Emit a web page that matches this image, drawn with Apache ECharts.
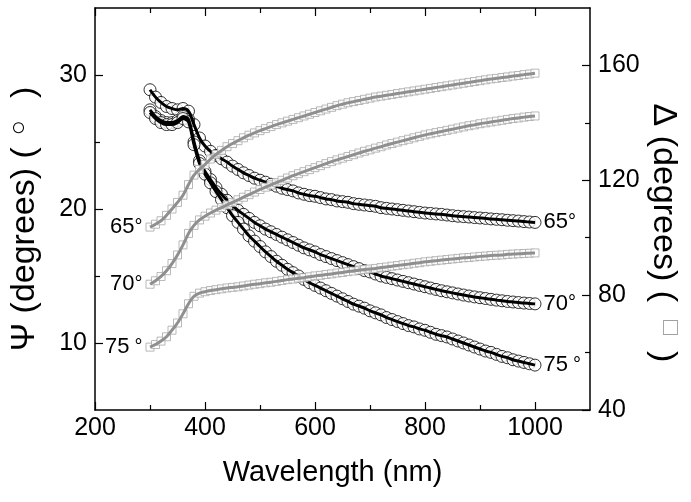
<!DOCTYPE html>
<html><head><meta charset="utf-8">
<script src="https://cdn.jsdelivr.net/npm/echarts@6/dist/echarts.min.js"></script>
<style>html,body{margin:0;padding:0;background:#fff}#c{width:691px;height:502px}</style>
</head><body><div id="c"></div>
<script>
const wavelength = [300,310,320,330,340,350,360,370,380,390,
400,410,420,430,440,450,460,470,480,490,
500,510,520,530,540,550,560,570,580,590,
600,610,620,630,640,650,660,670,680,690,
700,710,720,730,740,750,760,770,780,790,
800,810,820,830,840,850,860,870,880,890,
900,910,920,930,940,950,960,970,980,990,
1000];
const psi65 = [28.9,28.35,27.95,27.65,27.5,27.4,27.5,27.3,26.3,25.3,
24.7,24.3,24.0,23.75,23.5,23.2,22.95,22.7,22.5,22.3,
22.15,22.0,21.85,21.7,21.55,21.45,21.35,21.2,21.1,21.0,
20.95,20.85,20.75,20.7,20.6,20.55,20.5,20.4,20.35,20.3,
20.25,20.2,20.1,20.05,20.0,19.95,19.9,19.85,19.8,19.75,
19.7,19.67,19.63,19.6,19.55,19.5,19.46,19.43,19.4,19.36,
19.33,19.3,19.26,19.23,19.2,19.16,19.13,19.1,19.06,19.03,
19.0];
const psi70 = [27.4,26.9,26.6,26.45,26.45,26.6,26.9,26.7,25.0,23.6,
22.8,22.2,21.6,21.1,20.65,20.25,19.9,19.6,19.3,19.0,
18.75,18.5,18.3,18.1,17.9,17.7,17.5,17.3,17.1,16.95,
16.8,16.6,16.45,16.3,16.15,16.0,15.85,15.7,15.55,15.4,
15.3,15.15,15.0,14.9,14.8,14.7,14.6,14.5,14.4,14.3,
14.2,14.1,14.0,13.9,13.82,13.74,13.66,13.58,13.51,13.44,
13.38,13.32,13.26,13.2,13.15,13.1,13.06,13.02,12.98,12.95,
12.92];
const psi75 = [27.2,26.75,26.45,26.3,26.3,26.45,26.75,26.5,24.8,23.4,
22.6,21.95,21.3,20.7,20.1,19.5,19.0,18.5,18.0,17.6,
17.2,16.8,16.45,16.1,15.8,15.5,15.25,15.0,14.75,14.5,
14.3,14.1,13.9,13.7,13.5,13.3,13.1,12.9,12.75,12.6,
12.4,12.25,12.1,11.9,11.75,11.6,11.45,11.3,11.2,11.05,
10.95,10.8,10.65,10.55,10.45,10.3,10.15,10.0,9.85,9.7,
9.55,9.4,9.3,9.15,9.0,8.9,8.75,8.65,8.55,8.45,
8.35];
const delta65 = [103.7,104.7,105.9,107.8,110.0,112.3,114.8,118.5,121.8,123.8,
125.5,127.4,129.0,130.4,131.7,132.8,133.8,134.8,135.7,136.5,
137.3,138.0,138.7,139.4,140.0,140.6,141.2,141.8,142.4,143.0,
143.6,144.2,144.8,145.4,146.0,146.5,147.0,147.4,147.8,148.2,
148.6,149.0,149.3,149.6,149.9,150.2,150.5,150.8,151.1,151.4,
151.7,152.0,152.3,152.6,152.9,153.2,153.5,153.8,154.1,154.4,
154.7,155.0,155.3,155.5,155.8,156.0,156.3,156.5,156.8,157.0,
157.3];
const delta70 = [83.8,85.0,86.5,88.5,91.0,94.0,97.5,101.5,104.3,106.2,
107.5,108.6,109.6,110.5,111.4,112.3,113.2,114.1,115.0,115.9,
116.8,117.6,118.4,119.2,120.0,120.8,121.6,122.3,123.0,123.7,
124.4,125.1,125.8,126.5,127.1,127.7,128.3,128.9,129.5,130.1,
130.6,131.2,131.7,132.3,132.8,133.3,133.8,134.3,134.8,135.3,
135.8,136.2,136.6,137.0,137.4,137.8,138.2,138.6,139.0,139.3,
139.7,140.0,140.3,140.6,140.9,141.2,141.5,141.7,142.0,142.2,
142.4];
const delta75 = [61.9,62.8,64.0,65.5,67.8,70.3,73.5,77.0,79.6,80.7,
81.2,81.6,81.9,82.2,82.5,82.7,82.9,83.2,83.5,83.8,
84.0,84.3,84.5,84.8,85.1,85.4,85.6,85.9,86.1,86.4,
86.7,86.9,87.2,87.4,87.7,87.9,88.2,88.4,88.7,88.9,
89.1,89.3,89.6,89.8,90.1,90.3,90.6,90.8,91.1,91.3,
91.6,91.8,92.0,92.2,92.4,92.6,92.8,93.0,93.1,93.3,
93.5,93.6,93.8,93.9,94.0,94.2,94.3,94.4,94.5,94.6,
94.7];
const xTickLabels = [200,400,600,800,1000];
const xMinorTicks = [300,500,700,900];
const psiTickLabels = [10,20,30];
const psiMinorTicks = [15,25];
const deltaTickLabels = [40,80,120,160];
const deltaMinorTicks = [60,100,140];
const angleLabels = ['65°','70°','75 °'];

const NARROW = "'Liberation Sans Narrow','Liberation Sans',Arial,sans-serif";
const FONT_R = "'Liberation Sans',Arial,sans-serif";

function pts(arr, labelIdx, label) {
  return wavelength.map((w, i) => {
    const d = { value: [w, arr[i]] };
    if (i === labelIdx) d.label = label;
    return d;
  });
}
function angleLabel(text, pos) {
  const parts = text.replace('°', '').split(' ');
  const spaced = parts.length > 1;
  return { show: true, position: pos, distance: pos === 'left' ? 3 : 2,
    color: '#000', opacity: 1, textBorderWidth: 0,
    formatter: '{n|' + parts[0] + '}{' + (spaced ? 'ds' : 'd') + '|°}',
    rich: {
      n: { fontSize: 22, color: '#000', fontFamily: NARROW, textBorderWidth: 0 },
      d: { fontSize: 20, color: '#000', fontFamily: FONT_R, textBorderWidth: 0 },
      ds: { fontSize: 20, color: '#000', fontFamily: FONT_R, textBorderWidth: 0, padding: [0, 0, 0, 5] }
    } };
}
const psiSets = [psi65, psi70, psi75];
const deltaSets = [delta65, delta70, delta75];
const series = [];
psiSets.forEach((arr, k) => {
  series.push({ type: 'scatter', yAxisIndex: 0, z: 2, symbol: 'circle', symbolSize: 12, silent: true,
    itemStyle: { color: '#fff', borderColor: '#000', borderWidth: 1 },
    data: pts(arr, wavelength.length - 1, angleLabel(angleLabels[k], 'right')) });
});
psiSets.forEach(arr => {
  series.push({ type: 'line', yAxisIndex: 0, z: 3, showSymbol: false, smooth: 0.3, silent: true,
    lineStyle: { color: '#000', width: 3 }, data: pts(arr, -1) });
});
deltaSets.forEach((arr, k) => {
  series.push({ type: 'scatter', yAxisIndex: 1, z: 4, symbol: 'rect', symbolSize: 8, silent: true,
    itemStyle: { color: '#fff', borderColor: '#a8a8a8', borderWidth: 1 },
    data: pts(arr, 0, angleLabel(angleLabels[k], 'left')) });
});
deltaSets.forEach(arr => {
  series.push({ type: 'line', yAxisIndex: 1, z: 5, showSymbol: false, smooth: 0.3, silent: true,
    lineStyle: { color: '#8f8f8f', width: 3 }, data: pts(arr, -1) });
});

const axisLine = { show: true, lineStyle: { color: '#000', width: 1.5 } };
const noLine = { show: false };
const majorTick = (vals) => ({ show: true, inside: true, length: 8, customValues: vals,
  lineStyle: { color: '#000', width: 1.2 } });
const minorTick = (vals) => ({ show: true, inside: true, length: 5, customValues: vals,
  lineStyle: { color: '#000', width: 1.2 } });
const lbl = (vals, margin) => ({ show: true, fontSize: 25, color: '#000', fontFamily: FONT_R,
  margin, customValues: vals, formatter: v => String(v) });
const none = { show: false };
const base = (extra) => Object.assign({ type: 'value', splitLine: none }, extra);

const chart = echarts.init(document.getElementById('c'));
chart.setOption({
  animation: false,
  backgroundColor: '#fff',
  grid: { left: 95, right: 101, top: 8, bottom: 92 },
  xAxis: [
    base({ position: 'bottom', min: 200, max: 1100, axisLine,
      axisTick: majorTick(xTickLabels), axisLabel: lbl(xTickLabels, 6),
      name: 'Wavelength (nm)', nameLocation: 'middle', nameGap: 48,
      nameTextStyle: { fontSize: 29, color: '#000', fontFamily: FONT_R, padding: [0, 20, 0, 0] } }),
    base({ position: 'bottom', min: 200, max: 1100, axisLine: noLine,
      axisTick: minorTick(xMinorTicks), axisLabel: none }),
    base({ position: 'top', min: 200, max: 1100, axisLine,
      axisTick: majorTick(xTickLabels), axisLabel: none }),
    base({ position: 'top', min: 200, max: 1100, axisLine: noLine,
      axisTick: minorTick(xMinorTicks), axisLabel: none })
  ],
  yAxis: [
    base({ position: 'left', min: 5, max: 35, axisLine,
      axisTick: majorTick(psiTickLabels), axisLabel: lbl(psiTickLabels, 8) }),
    base({ position: 'right', min: 40, max: 180, axisLine,
      axisTick: majorTick(deltaTickLabels), axisLabel: lbl(deltaTickLabels, 8) }),
    base({ position: 'left', min: 5, max: 35, axisLine: noLine,
      axisTick: minorTick(psiMinorTicks), axisLabel: none }),
    base({ position: 'right', min: 40, max: 180, axisLine: noLine,
      axisTick: minorTick(deltaMinorTicks), axisLabel: none })
  ],
  graphic: [
    { type: 'text', x: 25, y: 219, rotation: Math.PI / 2, silent: true,
      style: { text: 'Ψ (degrees) ({c|○})', fontSize: 34, fontFamily: FONT_R, fill: '#000',
        align: 'center', verticalAlign: 'middle',
        rich: { c: { fontSize: 25, fontFamily: FONT_R, fill: '#000', padding: [0, 22, 12, 12] } } } },
    { type: 'text', x: 663, y: 233, rotation: -Math.PI / 2, silent: true,
      style: { text: 'Δ (degrees) ({c|□})', fontSize: 34, fontFamily: FONT_R, fill: '#000',
        align: 'center', verticalAlign: 'middle',
        rich: { c: { fontSize: 25, fontFamily: FONT_R, fill: '#a0a0a0', padding: [0, 16, 14, 18] } } } }
  ],
  series
});
</script></body></html>
